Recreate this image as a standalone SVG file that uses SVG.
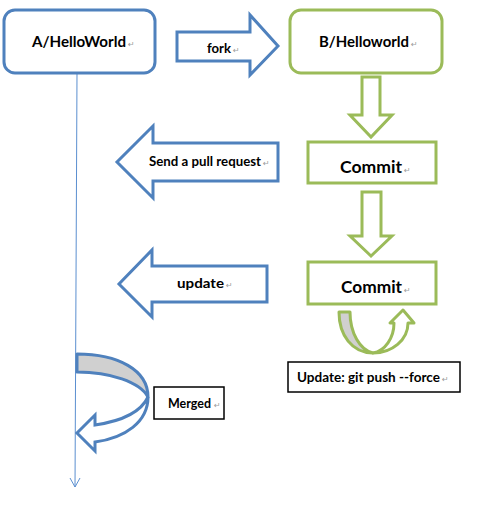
<svg xmlns="http://www.w3.org/2000/svg" width="484" height="505" viewBox="0 0 484 505">
<style>
.bl{fill:#fff;stroke:#4f81bd;stroke-width:3;stroke-linejoin:miter}
.gr{fill:#fff;stroke:#9bbb59;stroke-width:3;stroke-linejoin:miter}
.bx{fill:#fff;stroke:#000;stroke-width:1.5}
.t{font-family:Lato,"Open Sans","Liberation Sans",sans-serif;font-weight:bold;fill:#000}
.pm{font-family:"DejaVu Sans",sans-serif;font-size:8px;font-weight:normal;fill:#9a9a9a}
.gray{fill:#d0d0d0}
</style>
<rect width="484" height="505" fill="#fff"/>
<g id="connectors">
  <g id="timeline">
    <line x1="77" y1="73" x2="75" y2="487" stroke="#5b8fd0" stroke-width="1"/>
    <polyline points="70,478 75,487 80,478" fill="none" stroke="#5b8fd0" stroke-width="1"/>
  </g>
  <g id="fork-arrow">
    <polygon class="bl" points="177,32 250,32 250,15 278,46 250,75 250,61 177,61"/>
    <text class="t" x="207" y="53" font-size="14"><tspan textLength="24" lengthAdjust="spacingAndGlyphs">fork</tspan><tspan class="pm" dx="2">↵</tspan></text>
  </g>
  <g id="pull-request-arrow">
    <polygon class="bl" points="278,143 153,143 153,126 117,162 153,198 153,181 278,181"/>
    <text class="t" x="149" y="166" font-size="13"><tspan textLength="112" lengthAdjust="spacingAndGlyphs">Send a pull request</tspan><tspan class="pm" dx="2">↵</tspan></text>
  </g>
  <g id="update-arrow">
    <polygon class="bl" points="267,266 152,266 152,250 119,284 152,317 152,302 267,302"/>
    <text class="t" x="177" y="288" font-size="14"><tspan textLength="47" lengthAdjust="spacingAndGlyphs">update</tspan><tspan class="pm" dx="2">↵</tspan></text>
  </g>
  <g id="down-arrow-1">
    <polygon class="gr" points="362,77 380,77 380,115 392,115 371,137 350,115 362,115"/>
  </g>
  <g id="down-arrow-2">
    <polygon class="gr" points="362,192 381,192 381,236 392,236 371,256 350,236 362,236"/>
  </g>
  <g id="force-push-arrow">
    <path class="gray" d="M339,312 L350,312 C350,333 360,350 373,353 C352,353 339,335 339,312 Z" stroke="#9bbb59" stroke-width="3" stroke-linejoin="round"/>
    <path d="M373,353 C392,353 408,340 408,323 L414,323 L403,310 L390,323 L394,323 C394,338 385,351 373,353 Z" fill="#fff" stroke="#9bbb59" stroke-width="3" stroke-linejoin="round"/>
  </g>
  <g id="merge-arrow">
    <path class="gray" d="M77,354 C118,354 148,370 148,397 C140,382 110,372 77,372 Z" stroke="#4f81bd" stroke-width="3" stroke-linejoin="round"/>
    <path d="M148,397 C148,422 125,438 95,442 L95,451 L77,433 L95,415 L95,425 C122,421 141,412 148,397 Z" fill="#fff" stroke="#4f81bd" stroke-width="3" stroke-linejoin="miter"/>
  </g>
</g>
<g id="nodeA">
  <rect class="bl" x="4" y="10" width="151" height="63" rx="11"/>
  <text class="t" x="32" y="47" font-size="15"><tspan textLength="94" lengthAdjust="spacingAndGlyphs">A/HelloWorld</tspan><tspan class="pm" dx="2">↵</tspan></text>
</g>
<g id="nodeB">
  <rect class="gr" x="290" y="10" width="152" height="63" rx="11"/>
  <text class="t" x="319" y="47" font-size="15"><tspan textLength="90" lengthAdjust="spacingAndGlyphs">B/Helloworld</tspan><tspan class="pm" dx="2">↵</tspan></text>
</g>
<g id="commit1">
  <rect class="gr" x="308" y="142" width="128" height="41"/>
  <text class="t" x="340" y="173" font-size="17"><tspan textLength="62" lengthAdjust="spacingAndGlyphs">Commit</tspan><tspan class="pm" dx="2">↵</tspan></text>
</g>
<g id="commit2">
  <rect class="gr" x="308" y="262" width="128" height="42"/>
  <text class="t" x="341" y="293" font-size="17"><tspan textLength="61" lengthAdjust="spacingAndGlyphs">Commit</tspan><tspan class="pm" dx="2">↵</tspan></text>
</g>
<g id="merged">
  <rect class="bx" x="154" y="387" width="70" height="32"/>
  <text class="t" x="168" y="408" font-size="12.5"><tspan textLength="43" lengthAdjust="spacingAndGlyphs">Merged</tspan><tspan class="pm" dx="3">↵</tspan></text>
</g>
<g id="force-update">
  <rect class="bx" x="288" y="362" width="172" height="30"/>
  <text class="t" x="297" y="382" font-size="13.5"><tspan textLength="143" lengthAdjust="spacingAndGlyphs">Update: git push --force</tspan><tspan class="pm" dx="2">↵</tspan></text>
</g>
</svg>
